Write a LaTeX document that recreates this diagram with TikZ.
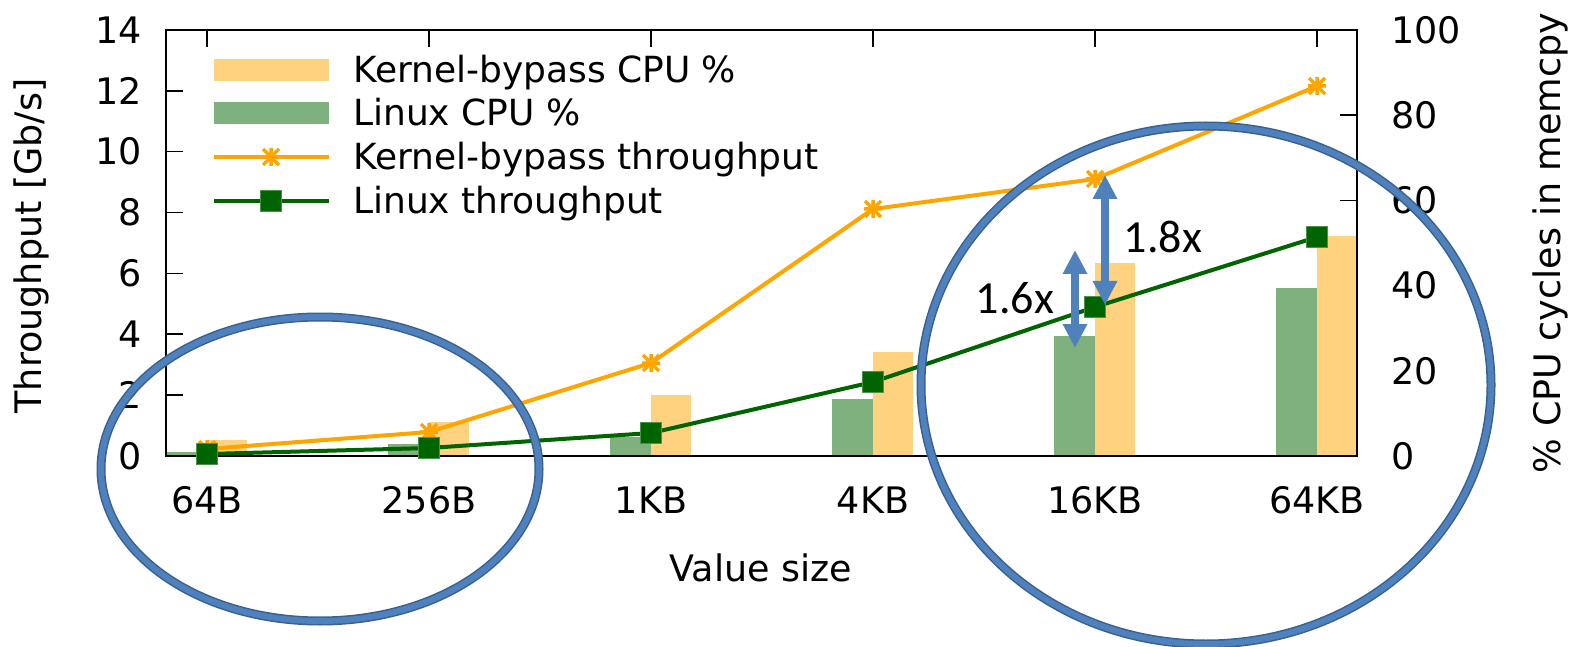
\documentclass[tikz,border=0pt]{standalone}
\usepackage{fontspec}
\setmainfont{DejaVu Sans}
\newfontfamily\calfont{Carlito}
\usetikzlibrary{arrows.meta}
\definecolor{kbline}{HTML}{FFA500}
\definecolor{lxline}{HTML}{006400}
\definecolor{kbbar}{HTML}{FFD27F}
\definecolor{lxbar}{HTML}{7FB17F}
\definecolor{hlblue}{HTML}{4F81BD}
\definecolor{hledge}{HTML}{3A6090}
\tikzset{
  kbstar/.pic={\draw[kbline,line width=3.5] (-9,0)--(9,0) (0,-9)--(0,9) (-8,-8)--(8,8) (-8,8)--(8,-8);},
  lxsq/.pic={\filldraw[fill=lxline,draw=lxline!70!white,line width=1] (-10.5,-10.5) rectangle (10.5,10.5);},
  kbplot/.style={kbline,line width=4,line join=round},
  lxplot/.style={lxline,line width=4,line join=round},
  ticklab/.style={inner sep=0pt},
  legendlab/.style={inner sep=0pt,anchor=base west,font=\fontsize{36pt}{43pt}\selectfont},
  bigarrow/.style={hlblue,line width=8,{Triangle[width=23pt,length=24pt]}-{Triangle[width=23pt,length=24pt]}},
  ringedge/.style={hledge,line width=9},
  ringfill/.style={hlblue,line width=6},
  factorlab/.style={font=\calfont\fontsize{46pt}{50pt}\selectfont,inner sep=0pt,anchor=base},
}
\begin{document}
\begin{tikzpicture}[x=1pt,y=-1pt,font=\fontsize{36.5pt}{44pt}\selectfont]
\useasboundingbox (0,0) rectangle (1575,647);

% tick marks (drawn first so the bars cover them)
\foreach \v in {2,4,...,12}
  \draw[line width=1.6] (166,{456-30.43*\v}) -- (183,{456-30.43*\v});
\foreach \p in {20,40,60,80}
  \draw[line width=1.6] (1357,{456-4.26*\p}) -- (1340,{456-4.26*\p});
\foreach \cx in {207,429,651,873,1095,1317}
  \draw[line width=1.6] (\cx,30) -- (\cx,47);

% CPU bars: Linux (left half), kernel-bypass (right half)
\foreach \cx/\lt/\kt in {207/452/440, 429/444/422, 651/437/395, 873/399/352, 1095/336/263, 1317/288/236} {
  \fill[lxbar] (\cx-41,\lt) rectangle (\cx,456);
  \fill[kbbar] (\cx,\kt) rectangle (\cx+40,456);
}

% plot border
\draw[line width=2] (166,30) rectangle (1357,456);

% throughput points
\coordinate (kb1) at (207,449);
\coordinate (kb2) at (429,432);
\coordinate (kb3) at (651,363);
\coordinate (kb4) at (873,209);
\coordinate (kb5) at (1095,179);
\coordinate (kb6) at (1317,86);
\coordinate (lx1) at (207,454);
\coordinate (lx2) at (429,448);
\coordinate (lx3) at (651,433);
\coordinate (lx4) at (873,382);
\coordinate (lx5) at (1095,307);
\coordinate (lx6) at (1317,237);

\draw[kbplot] (kb1) -- (kb2) -- (kb3) -- (kb4) -- (kb5) -- (kb6);
\foreach \i in {1,...,6} \pic at (kb\i) {kbstar};
\draw[lxplot] (lx1) -- (lx2) -- (lx3) -- (lx4) -- (lx5) -- (lx6);
\foreach \i in {1,...,6} \pic at (lx\i) {lxsq};

% axis tick labels
\foreach \v in {0,2,...,14}
  \node[ticklab,anchor=east] (yl\v) at (142,{456-30.43*\v}) {\v};
\foreach \p in {0,20,...,100}
  \node[ticklab,anchor=west] (yr\p) at (1391,{456-4.26*\p}) {\p};
\foreach \cx/\lab/\nm in {207/64B/a,429/256B/b,651/1KB/c,873/4KB/d,1095/16KB/e,1317/64KB/f}
  \node[ticklab,anchor=base] (xl\nm) at (\cx,513) {\lab};

% axis titles
\node[ticklab,anchor=base] (xtitle) at (761,581) {Value size};
\node[ticklab,anchor=base,rotate=90] (ytitle) at (41,246) {Throughput [Gb/s]};
\node[ticklab,anchor=base,rotate=90] (y2title) at (1560,243) {\% CPU cycles in memcpy};

% legend
\fill[kbbar] (214,59) rectangle (329,81);
\fill[lxbar] (214,102) rectangle (329,124);
\coordinate (lgkbL) at (214,157); \coordinate (lgkbR) at (329,157);
\coordinate (lglxL) at (214,201); \coordinate (lglxR) at (329,201);
\draw[kbplot] (lgkbL) -- (lgkbR);
\pic at (271,157) {kbstar};
\draw[lxplot] (lglxL) -- (lglxR);
\pic at (271,201) {lxsq};
\node[legendlab] (lg1) at (353,83) {Kernel-bypass CPU \%};
\node[legendlab] (lg2) at (353,126) {Linux CPU \%};
\node[legendlab] (lg3) at (353,170) {Kernel-bypass throughput};
\node[legendlab] (lg4) at (353,214) {Linux throughput};

% speed-up arrows and their factors
\coordinate (a18t) at (1105,175);
\coordinate (a18b) at (1105,305);
\coordinate (a16t) at (1075,250);
\coordinate (a16b) at (1075,348);
\draw[bigarrow] (a18t) -- (a18b);
\draw[bigarrow] (a16t) -- (a16b);
\node[factorlab] (f18) at (1163,253) {1.8x};
\node[factorlab] (f16) at (1015,313) {1.6x};

% highlight rings
\draw[ringedge] (320,469) ellipse [x radius=219pt, y radius=152pt];
\draw[ringfill] (320,469) ellipse [x radius=219pt, y radius=152pt];
\draw[ringedge] (1206,385) ellipse [x radius=285pt, y radius=259pt];
\draw[ringfill] (1206,385) ellipse [x radius=285pt, y radius=259pt];
\end{tikzpicture}
\end{document}
